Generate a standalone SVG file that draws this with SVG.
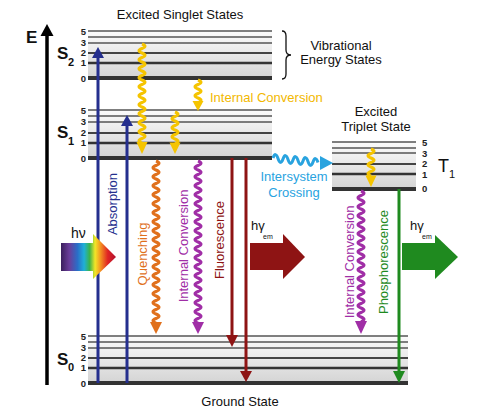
<svg xmlns="http://www.w3.org/2000/svg" width="478" height="416" viewBox="0 0 478 416">
<defs>
<linearGradient id="band" x1="0" y1="0" x2="0" y2="1">
<stop offset="0" stop-color="#fbfbfb"/>
<stop offset="1" stop-color="#d4d4d4"/>
</linearGradient>
<linearGradient id="rainbow" x1="61" y1="0" x2="116" y2="0" gradientUnits="userSpaceOnUse">
<stop offset="0" stop-color="#3a1f5c"/>
<stop offset="0.15" stop-color="#6a3d9a"/>
<stop offset="0.3" stop-color="#2a6ec8"/>
<stop offset="0.42" stop-color="#1fb0d8"/>
<stop offset="0.52" stop-color="#3cb44a"/>
<stop offset="0.62" stop-color="#f2e627"/>
<stop offset="0.72" stop-color="#f39221"/>
<stop offset="0.85" stop-color="#e02424"/>
<stop offset="1" stop-color="#b01030"/>
</linearGradient>
</defs>
<style>
text{font-family:"Liberation Sans",Arial,sans-serif;}
.t13{font-size:13px;fill:#111;}
.num{font-size:9.5px;font-weight:bold;fill:#222;}
.sl{font-size:17px;font-weight:bold;fill:#111;}
.sub{font-size:11px;font-weight:bold;fill:#111;}
.l5{stroke:#555;stroke-width:1.4;}
.l2{stroke:#444;stroke-width:1.8;}
.l1{stroke:#333;stroke-width:2.6;}
.l0{stroke:#333;stroke-width:4;}
.wave{fill:none;stroke-width:3;stroke-linejoin:round;}
.yel{stroke:#f5c400;}
.yelf{fill:#f5c400;}
.blue{stroke:#252f8e;stroke-width:3;}
.bluef{fill:#252f8e;}
.red{stroke:#8e1414;stroke-width:3;}
.redf{fill:#8e1414;}
.grn{stroke:#1f8a1f;stroke-width:3;}
.grnf{fill:#1f8a1f;}
.rot{font-size:13px;text-anchor:middle;}
.hg{font-size:13px;fill:#111;}
.em{font-size:7px;fill:#111;}
</style>

<g id="axis">
<line x1="47" y1="385" x2="47" y2="34" stroke="#000" stroke-width="3.5"/>
<polygon points="40.5,36 53.5,36 47,24" fill="#000"/>
<text x="26" y="43" class="sl">E</text>
</g>

<g id="S2">
<rect x="88" y="31" width="184" height="47" fill="url(#band)"/>
<line x1="88" y1="31" x2="272" y2="31" class="l5"/>
<line x1="88" y1="37" x2="272" y2="37" class="l5"/>
<line x1="88" y1="43" x2="272" y2="43" class="l5"/>
<line x1="88" y1="53" x2="272" y2="53" class="l2"/>
<line x1="88" y1="63" x2="272" y2="63" class="l1"/>
<line x1="88" y1="78" x2="272" y2="78" class="l0"/>
<text x="86" y="35" class="num" text-anchor="end">5</text>
<text x="86" y="46" class="num" text-anchor="end">3</text>
<text x="86" y="56" class="num" text-anchor="end">2</text>
<text x="86" y="66" class="num" text-anchor="end">1</text>
<text x="86" y="81.5" class="num" text-anchor="end">0</text>
<text x="57" y="59" class="sl">S</text>
<text x="68" y="66" class="sub">2</text>
</g>

<g id="S1">
<rect x="88" y="110" width="184" height="48" fill="url(#band)"/>
<line x1="88" y1="110" x2="272" y2="110" class="l5"/>
<line x1="88" y1="116" x2="272" y2="116" class="l5"/>
<line x1="88" y1="122" x2="272" y2="122" class="l5"/>
<line x1="88" y1="133" x2="272" y2="133" class="l2"/>
<line x1="88" y1="143" x2="272" y2="143" class="l1"/>
<line x1="88" y1="158" x2="272" y2="158" class="l0"/>
<text x="86" y="114" class="num" text-anchor="end">5</text>
<text x="86" y="125" class="num" text-anchor="end">3</text>
<text x="86" y="136" class="num" text-anchor="end">2</text>
<text x="86" y="146" class="num" text-anchor="end">1</text>
<text x="86" y="161.5" class="num" text-anchor="end">0</text>
<text x="57" y="138" class="sl">S</text>
<text x="68" y="145" class="sub">1</text>
</g>

<g id="T1">
<rect x="332" y="142" width="84" height="47" fill="url(#band)"/>
<line x1="332" y1="142" x2="416" y2="142" class="l5"/>
<line x1="332" y1="148" x2="416" y2="148" class="l5"/>
<line x1="332" y1="153" x2="416" y2="153" class="l5"/>
<line x1="332" y1="164" x2="416" y2="164" class="l2"/>
<line x1="332" y1="174" x2="416" y2="174" class="l1"/>
<line x1="332" y1="189" x2="416" y2="189" class="l0"/>
<text x="422" y="146" class="num">5</text>
<text x="422" y="157" class="num">3</text>
<text x="422" y="167" class="num">2</text>
<text x="422" y="178" class="num">1</text>
<text x="422" y="192" class="num">0</text>
<text x="438" y="172" font-size="18" fill="#111">T</text>
<text x="449" y="178" font-size="11" fill="#111">1</text>
<text x="376" y="116" class="t13" text-anchor="middle">Excited</text>
<text x="376" y="131" class="t13" text-anchor="middle">Triplet State</text>
</g>

<g id="S0">
<rect x="88" y="336" width="320" height="47" fill="url(#band)"/>
<line x1="88" y1="336" x2="408" y2="336" class="l5"/>
<line x1="88" y1="342" x2="408" y2="342" class="l5"/>
<line x1="88" y1="348" x2="408" y2="348" class="l5"/>
<line x1="88" y1="358" x2="408" y2="358" class="l2"/>
<line x1="88" y1="368" x2="408" y2="368" class="l1"/>
<line x1="88" y1="383" x2="408" y2="383" class="l0"/>
<text x="86" y="340" class="num" text-anchor="end">5</text>
<text x="86" y="351" class="num" text-anchor="end">3</text>
<text x="86" y="361" class="num" text-anchor="end">2</text>
<text x="86" y="371" class="num" text-anchor="end">1</text>
<text x="86" y="386.5" class="num" text-anchor="end">0</text>
<text x="57" y="365" class="sl">S</text>
<text x="68" y="371" class="sub">0</text>
<text x="240" y="406" class="t13" text-anchor="middle">Ground State</text>
</g>

<g id="titles">
<text x="180" y="19" class="t13" text-anchor="middle">Excited Singlet States</text>
<path d="M282,31 q4,0 4,5 v14 q0,5 5,5 q-5,0 -5,5 v14 q0,5 -4,5" fill="none" stroke="#111" stroke-width="1.3"/>
<text x="341" y="50" class="t13" text-anchor="middle">Vibrational</text>
<text x="341" y="64" class="t13" text-anchor="middle">Energy States</text>
</g>

<g id="connectors">
<line x1="98" y1="383" x2="98" y2="57" class="blue"/>
<polygon points="92,58 104,58 98,47" class="bluef"/>
<line x1="127" y1="383" x2="127" y2="125" class="blue"/>
<polygon points="121,126 133,126 127,115" class="bluef"/>
<path class="wave yel" d="M142,44 q6,2.25 0,4.5 t0,4.5 t0,4.5 t0,4.5 t0,4.5 t0,4.5 t0,4.5 t0,4.5 t0,4.5 t0,4.5 t0,4.5 t0,4.5 t0,4.5 t0,4.5 t0,4.5 t0,4.5 t0,4.5 t0,4.5 t0,4.5 t0,4.5 t0,4.5 t0,4.5"/>
<polygon points="136.5,142 147.5,142 142,154" class="yelf"/>
<path class="wave yel" d="M198,80 q6,2.25 0,4.5 t0,4.5 t0,4.5 t0,4.5 t0,4.5"/>
<polygon points="192.5,101 203.5,101 198,111" class="yelf"/>
<path class="wave yel" d="M175,112 q6,2.25 0,4.5 t0,4.5 t0,4.5 t0,4.5 t0,4.5 t0,4.5 t0,4.5"/>
<polygon points="169.5,142.5 180.5,142.5 175,154" class="yelf"/>
<path class="wave yel" d="M371,149 q6,2.25 0,4.5 t0,4.5 t0,4.5 t0,4.5 t0,4.5 t0,4.5"/>
<polygon points="365.5,175.5 376.5,175.5 371,187" class="yelf"/>
<path class="wave" stroke="#e0701c" d="M156,161 q6,2.25 0,4.5 t0,4.5 t0,4.5 t0,4.5 t0,4.5 t0,4.5 t0,4.5 t0,4.5 t0,4.5 t0,4.5 t0,4.5 t0,4.5 t0,4.5 t0,4.5 t0,4.5 t0,4.5 t0,4.5 t0,4.5 t0,4.5 t0,4.5 t0,4.5 t0,4.5 t0,4.5 t0,4.5 t0,4.5 t0,4.5 t0,4.5 t0,4.5 t0,4.5 t0,4.5 t0,4.5 t0,4.5 t0,4.5 t0,4.5 t0,4.5 t0,4.5"/>
<polygon points="150,322 162,322 156,334" fill="#e0701c"/>
<path class="wave" stroke="#a02ea6" d="M198,161 q6,2.25 0,4.5 t0,4.5 t0,4.5 t0,4.5 t0,4.5 t0,4.5 t0,4.5 t0,4.5 t0,4.5 t0,4.5 t0,4.5 t0,4.5 t0,4.5 t0,4.5 t0,4.5 t0,4.5 t0,4.5 t0,4.5 t0,4.5 t0,4.5 t0,4.5 t0,4.5 t0,4.5 t0,4.5 t0,4.5 t0,4.5 t0,4.5 t0,4.5 t0,4.5 t0,4.5 t0,4.5 t0,4.5 t0,4.5 t0,4.5 t0,4.5 t0,4.5"/>
<polygon points="192,322 204,322 198,334" fill="#a02ea6"/>
<line x1="232" y1="158" x2="232" y2="336" class="red"/>
<polygon points="226,335 238,335 232,347" class="redf"/>
<line x1="246" y1="158" x2="246" y2="372" class="red"/>
<polygon points="240,371 252,371 246,382" class="redf"/>
<path class="wave" stroke="#29a3df" d="M273,158 q2.5,-7 5,0.5 t5,0.5 t5,0.5 t5,0.5 t5,0.5 t5,0.5 t5,0.5 t5,0.5 t5,0.5"/>
<polygon points="320,156 320,170 333,163" fill="#29a3df"/>
<path class="wave" stroke="#a02ea6" d="M361,191 q6,2.25 0,4.5 t0,4.5 t0,4.5 t0,4.5 t0,4.5 t0,4.5 t0,4.5 t0,4.5 t0,4.5 t0,4.5 t0,4.5 t0,4.5 t0,4.5 t0,4.5 t0,4.5 t0,4.5 t0,4.5 t0,4.5 t0,4.5 t0,4.5 t0,4.5 t0,4.5 t0,4.5 t0,4.5 t0,4.5 t0,4.5 t0,4.5 t0,4.5 t0,4.5"/>
<polygon points="355,321 367,321 361,334" fill="#a02ea6"/>
<line x1="399" y1="189" x2="399" y2="372" class="grn"/>
<polygon points="393,371 405,371 399,383" class="grnf"/>
</g>

<g id="photons">
<rect x="61" y="243" width="33" height="28" fill="url(#rainbow)"/>
<polygon points="93,234 93,279 116,257" fill="url(#rainbow)"/>
<text x="71" y="238" font-size="14" fill="#111">hν</text>
<rect x="250" y="243" width="34" height="27" fill="#8e1414"/>
<polygon points="283,234 283,279 305,257" fill="#8e1414"/>
<text x="251" y="230" class="hg">hγ</text>
<text x="263" y="239" class="em">em</text>
<rect x="402" y="243" width="34" height="27" fill="#1f8a1f"/>
<polygon points="435,235 435,279 458,257" fill="#1f8a1f"/>
<text x="410" y="230" class="hg">hγ</text>
<text x="422" y="239" class="em">em</text>
</g>

<g id="labels">
<text class="t13" x="210" y="102" style="fill:#f2b800">Internal Conversion</text>
<text class="t13" x="294" y="181" text-anchor="middle" style="fill:#29a3df">Intersystem</text>
<text class="t13" x="294" y="197" text-anchor="middle" style="fill:#29a3df">Crossing</text>
<text class="rot" transform="translate(117,204) rotate(-90)" fill="#252f8e">Absorption</text>
<text class="rot" transform="translate(147,254) rotate(-90)" fill="#e0701c">Quenching</text>
<text class="rot" transform="translate(188,246) rotate(-90)" fill="#a02ea6">Internal Conversion</text>
<text class="rot" transform="translate(224,240) rotate(-90)" fill="#8e1414">Fluorescence</text>
<text class="rot" transform="translate(354,262) rotate(-90)" fill="#a02ea6">Internal Conversion</text>
<text class="rot" transform="translate(388,262) rotate(-90)" fill="#1f8a1f">Phosphorescence</text>
</g>
</svg>
